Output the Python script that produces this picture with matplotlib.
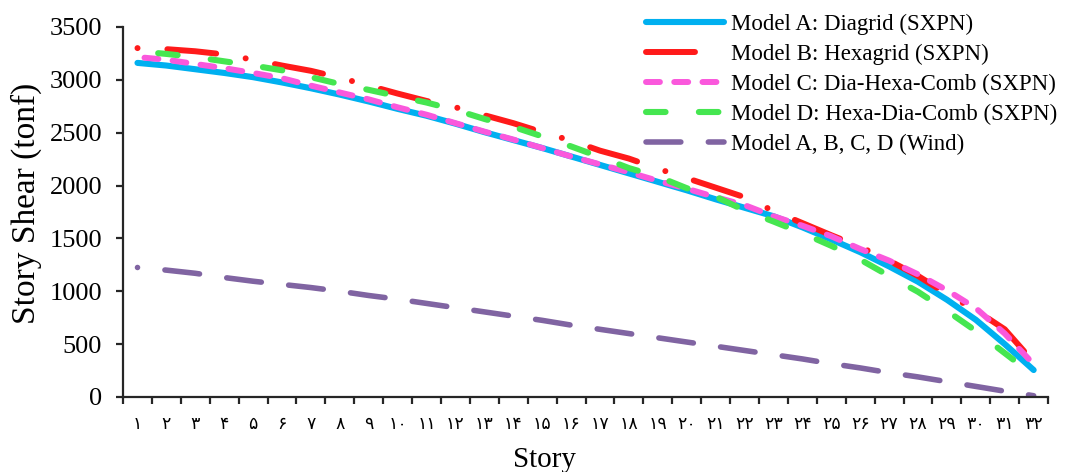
import matplotlib

matplotlib.use("Agg")
import matplotlib.pyplot as plt
from matplotlib.lines import Line2D

plt.rcParams["font.family"] = ["Liberation Serif", "DejaVu Serif"]

# story numbers and their (Persian-digit) tick labels
stories = list(range(1, 33))
story_labels = [
    "۱", "۲", "۳", "۴", "۵", "۶", "۷", "۸", "۹", "۱۰",
    "۱۱", "۱۲", "۱۳", "۱۴", "۱۵", "۱۶", "۱۷", "۱۸", "۱۹", "۲۰",
    "۲۱", "۲۲", "۲۳", "۲۴", "۲۵", "۲۶", "۲۷", "۲۸", "۲۹", "۳۰",
    "۳۱", "۳۲",
]

# story shear (tonf)
model_a = [3160, 3135, 3100, 3065, 3025, 2975, 2920, 2860, 2795, 2725,
           2660, 2585, 2505, 2430, 2355, 2275, 2195, 2115, 2035, 1955,
           1870, 1790, 1710, 1605, 1490, 1370, 1235, 1090, 920, 730,
           500, 255]
model_b = [3300, 3290, 3270, 3240, 3190, 3135, 3085, 3020, 2945, 2870,
           2800, 2740, 2665, 2590, 2505, 2425, 2330, 2255, 2160, 2070,
           1980, 1890, 1760, 1645, 1530, 1420, 1290, 1145, 975, 820,
           640, 330]
model_c = [3215, 3190, 3150, 3110, 3065, 3015, 2945, 2880, 2815, 2740,
           2670, 2590, 2510, 2435, 2355, 2275, 2200, 2125, 2045, 1970,
           1890, 1815, 1710, 1620, 1520, 1400, 1290, 1160, 1010, 840,
           600, 310]
model_d = [3270, 3245, 3215, 3175, 3135, 3090, 3025, 2960, 2905, 2845,
           2785, 2715, 2630, 2555, 2465, 2370, 2270, 2165, 2085, 1975,
           1895, 1765, 1660, 1550, 1430, 1300, 1145, 995, 815, 625,
           415, 205]
wind = [1225, 1200, 1170, 1130, 1095, 1065, 1035, 1000, 960, 925,
        885, 845, 805, 765, 725, 680, 640, 600, 560, 520,
        480, 440, 400, 360, 315, 275, 230, 190, 145, 100,
        55, 12]

series_names = [
    "Model A: Diagrid (SXPN)",
    "Model B: Hexagrid (SXPN)",
    "Model C: Dia-Hexa-Comb (SXPN)",
    "Model D: Hexa-Dia-Comb (SXPN)",
    "Model A, B, C, D (Wind)",
]

# colour, width, dash pattern in plot, dash pattern in legend
styles = [
    ("#00B0F0", 4.4, None, None),
    ("#FF1A1A", 4.3, (0, (0.01, 5.0, 8.2, 5.0)), (0, (8.2, 6.5, 0.01, 4.0))),
    ("#FA58DC", 4.3, (3.55, (2.33, 2.4)), (0, (2.33, 2.4))),
    ("#45E650", 4.4, (5.25, (3.2, 5.45)), (0, (3.2, 5.45))),
    ("#8064A2", 4.0, (6.26, (6.27, 4.95)), (0, (6.27, 4.95))),
]

fig = plt.figure(figsize=(10.67, 4.72), dpi=100)
ax = fig.add_axes([0.1153, 0.1589, 0.867, 0.784])

handles = []
for values, name, (color, lw, ls, leg_ls) in zip(
    [model_a, model_b, model_c, model_d, wind], series_names, styles
):
    kw = dict(color=color, lw=lw, solid_capstyle="round",
              dash_capstyle="round", solid_joinstyle="round")
    if ls is None:
        ax.plot(stories, values, "-", **kw)
        handles.append(Line2D([], [], ls="-", **kw))
    else:
        ax.plot(stories, values, linestyle=ls, **kw)
        handles.append(Line2D([], [], linestyle=leg_ls, **kw))

ax.set_xlim(0.5, 32.5)
ax.set_ylim(0, 3500)
ax.set_yticks(range(0, 3501, 500))

# category axis: ticks between stories, labels at story centres
ax.set_xticks([s - 0.5 for s in stories] + [32.5])
ax.set_xticklabels([])
ax.set_xticks(stories, minor=True)
ax.set_xticklabels(story_labels, minor=True, family=["DejaVu Sans"],
                   fontsize=12.5)
ax.tick_params(axis="x", which="minor", length=0, pad=13)
ax.tick_params(axis="x", which="major", length=5, width=1.6,
               direction="out", color="#262626")
ax.tick_params(axis="y", length=5, width=1.6, direction="out",
               color="#262626", labelsize=19, pad=10)

for side in ("top", "right"):
    ax.spines[side].set_visible(False)
for side in ("left", "bottom"):
    ax.spines[side].set_linewidth(1.6)
    ax.spines[side].set_color("#262626")

ax.set_xlabel("Story", fontsize=21)
ax.xaxis.set_label_coords(0.456, -0.17)
ax.xaxis.label.set_va("center")
ax.set_ylabel("Story Shear (tonf)", fontsize=24)
ax.yaxis.set_label_coords(-0.105, 0.524)
ax.yaxis.label.set_va("center")

ax.legend(handles, series_names, loc="upper right",
          bbox_to_anchor=(1.02, 1.06), frameon=False, fontsize=16.5,
          handlelength=3.4, handletextpad=0.3, labelspacing=0.38,
          borderaxespad=0.0)

fig.savefig("out.png", dpi=100)
